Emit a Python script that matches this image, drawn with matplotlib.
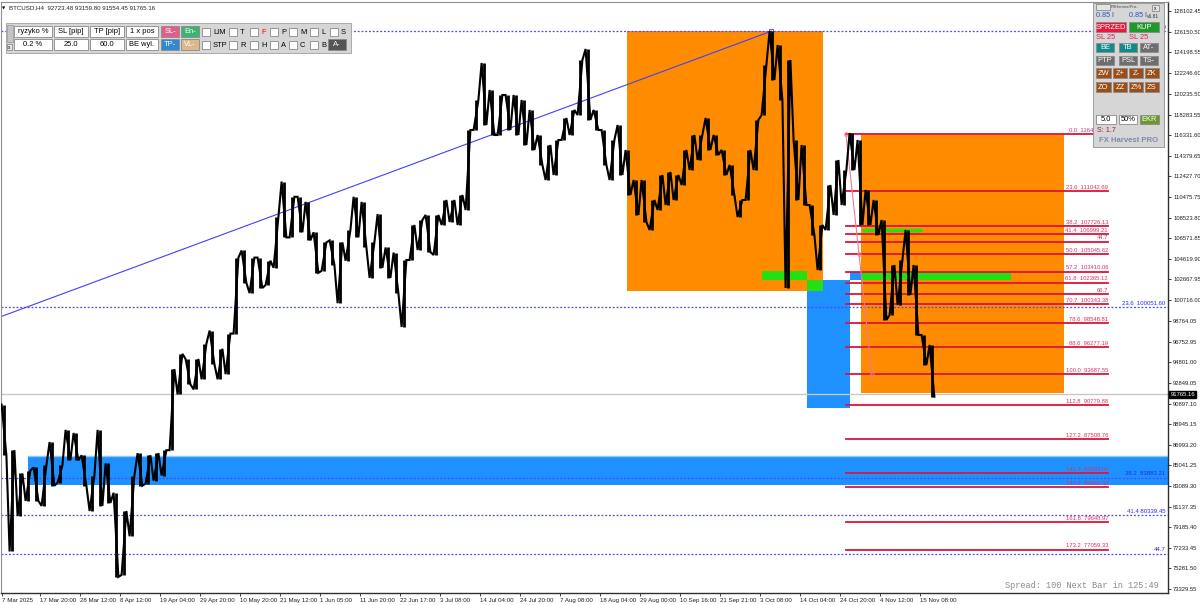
import numpy as np
import matplotlib
matplotlib.use("Agg")
import matplotlib.pyplot as plt
from matplotlib.patches import Rectangle
from matplotlib.transforms import Bbox

plt.rcParams['font.family'] = ['Liberation Sans', 'DejaVu Sans']

# BTCUSD H4, one high/low pair read for every ~13 bars (8 px of the chart)
highs = [90805, 86486, 84276, 84560, 84854, 85044, 87252, 85044, 88408, 88114,
         86001, 84086, 88408, 85233, 82447, 80722, 84086, 86200, 86001, 86200,
         86486, 94169, 95609, 95127, 95127, 96569, 97820, 96095, 97535, 104735,
         105408, 104735, 104735, 104441, 108573, 111936, 110496, 110496, 110013, 107132,
         106175, 106365, 106175, 107322, 110496, 110013, 106175, 108857, 105692, 105209,
         104507, 107824, 108298, 108772, 108772, 110193, 110193, 110667, 116826, 119669,
         123175, 120617, 120143, 120143, 120143, 119669, 118721, 116352, 115405, 115878,
         117963, 118721, 123459, 124502, 118721, 116826, 115878, 117300, 114931, 112088,
         112088, 110193, 112562, 112846, 112562, 114931, 116352, 116352, 117963, 116352,
         114931, 113510, 110193, 114931, 117774, 122986, 126200, 124881, 123459, 115878,
         115405, 109719, 107824, 111614, 113983, 113036, 116541, 115878, 111141, 110193,
         108298, 104033, 104507, 107350, 104033, 97400, 96453]
lows = [86001, 76885, 80240, 81680, 81680, 81206, 83120, 83413, 85527, 85527,
        83120, 80722, 81206, 81490, 74478, 74667, 78326, 83120, 83318, 83602,
        84086, 86486, 91762, 92728, 92244, 93203, 94643, 93203, 93686, 97535,
        102327, 101370, 101853, 102137, 103768, 106649, 106649, 107132, 106365, 103294,
        103484, 104062, 100414, 104441, 106649, 105692, 102811, 103768, 102811, 101370,
        98158, 104507, 105455, 105265, 104981, 107824, 108108, 107824, 109245, 116826,
        117300, 116352, 116352, 116826, 116352, 115405, 114931, 113510, 112088, 112562,
        115878, 116352, 118248, 117774, 116826, 113510, 112088, 112562, 110667, 108772,
        108108, 107350, 109245, 109719, 110193, 111614, 113036, 113983, 114931, 114457,
        112562, 110667, 108582, 110193, 113036, 118248, 121564, 119669, 101853, 110193,
        109719, 106876, 103560, 107350, 108772, 109719, 113036, 107824, 107824, 106876,
        98822, 99295, 100243, 101190, 97400, 94558, 91554]

date_labels = ["7 Mar 2025", "17 Mar 20:00", "28 Mar 12:00", "8 Apr 12:00", "19 Apr 04:00",
               "29 Apr 20:00", "10 May 20:00", "21 May 12:00", "1 Jun 05:00", "11 Jun 20:00",
               "22 Jun 17:00", "3 Jul 08:00", "14 Jul 04:00", "24 Jul 20:00", "7 Aug 08:00",
               "18 Aug 04:00", "29 Aug 00:00", "10 Sep 16:00", "21 Sep 21:00", "3 Oct 08:00",
               "14 Oct 04:00", "24 Oct 20:00", "4 Nov 12:00", "15 Nov 08:00"]
price_ticks = [128102.45, 126150.50, 124198.55, 122246.60, 120235.50, 118283.55, 116331.60,
               114379.65, 112427.70, 110475.75, 108523.80, 106571.85, 104619.90, 102667.95,
               100716.00, 98764.05, 96752.95, 94801.00, 92849.05, 90897.10, 88945.15,
               86993.20, 85041.25, 83089.30, 81137.35, 79185.40, 77233.45, 75281.50, 73329.55]

header = "BTCUSD,H4  92723.48 93159.80 91554.45 91765.16"
last_price = 91765.16

# red fibo (swing high -> low)
red_high = 116403.70
red_low = 93687.55
red_levels = [0.0, 23.6, 38.2, 41.4, 44.7, 50.0, 57.2, 61.8, 66.7, 70.7, 78.6,
              88.6, 100.0, 112.8, 127.2, 141.4, 147.2, 161.8, 173.2]
red_no_price = [44.7, 66.7]

# blue fibo levels (dotted, full width)
blue_levels = [0.0, 23.6, 38.2, 41.4, 44.7]
blue_prices = [126186.70, 100051.60, 83883.21, 80339.45, 76684.60]
blue_labels = ["0.0  126186.70", "23.6  100051.60", "38.2  83883.21", "41.4 80339.45", "44.7"]

# zones: (start bar, end bar, bottom price, top price)
orange_zones = [(77.9, 102.4, 101570, 126186.7), (107.1, 132.5, 91932, 116403.7)]
blue_zones = [(3.0, 145.6, 83186, 85934), (100.4, 105.75, 90483, 102612), (105.75, 107.25, 102612, 103370)]
green_zones = [(94.75, 100.4, 102612, 103465), (100.4, 102.4, 101570, 102612), (107.25, 125.9, 102612, 103465)]
green_line = (107.25, 114.75, 107350)
trend_line = ([-0.5, 95.9], [99106, 126186.7])
red_anchor = ([105.25, 108.5], [red_high, red_low])

W, H = 1200, 605
fig = plt.figure(figsize=(W / 100, H / 100), dpi=100)
fig.patch.set_facecolor('white')
ax = fig.add_axes([1 / W, 12 / H, 1167 / W, 591 / H])
ax.set_xlim(-0.375, 145.5)
ax.set_ylim(72952, 128955)

# everything left of the EA panel stays visible, the rest is hidden under it
panel_clip = Bbox.from_extents(0, 0, 1093, H)

for x0, x1, b, t in orange_zones:
    ax.add_patch(Rectangle((x0, b), x1 - x0, t - b, fc='#FF8C00', ec='none', zorder=1))
for x0, x1, b, t in blue_zones:
    ax.add_patch(Rectangle((x0, b), x1 - x0, t - b, fc='#1E90FF', ec='none', zorder=1))
ax.axhline(blue_zones[0][3], xmin=(blue_zones[0][0] + 0.375) / 145.875, color='#8EC8FF', lw=1, zorder=1.1)
for x0, x1, b, t in green_zones:
    ax.add_patch(Rectangle((x0, b), x1 - x0, t - b, fc='#22E012', ec='none', zorder=1.5))
ax.plot(green_line[:2], [green_line[2]] * 2, color='#22E012', lw=2.5, zorder=1.5, solid_capstyle='butt')

# blue fibo
for lvl, p, lab in zip(blue_levels, blue_prices, blue_labels):
    ax.axhline(p, color='#4848FF', lw=0.9, ls=(0, (1.5, 1.5)), zorder=2)
    t = ax.text(145.2, p + 120, lab, ha='right', va='bottom', fontsize=4.3, color='#2828FF', zorder=2)
    if lvl == 0.0:
        t.set_clip_box(panel_clip)
ax.plot(*trend_line, color='#4040FF', lw=0.8, zorder=2)
ax.plot(trend_line[0][1], trend_line[1][1], marker='s', ms=2.5, mfc='none', mec='#4040FF', mew=0.6, zorder=2)

# current price line
ax.axhline(last_price, color='#C8C8C8', lw=1, zorder=1.8)

# red fibo
for lvl in red_levels:
    p = red_high - (red_high - red_low) * lvl / 100
    ax.plot([105.25, 138.0], [p, p], color='#DC143C', lw=1.3, zorder=2.2)
    lab = f"{lvl:.1f}" if lvl in red_no_price else f"{lvl:.1f}  {p:.2f}"
    t = ax.text(138.0, p + 110, lab, ha='right', va='bottom', fontsize=4.2, color='#E0305A', zorder=2.2)
    if lvl == 0.0:
        t.set_clip_box(panel_clip)
ax.plot(*red_anchor, color='#F07890', lw=0.8, zorder=2.3)
ax.plot(red_anchor[0] + [np.mean(red_anchor[0])], red_anchor[1] + [np.mean(red_anchor[1])],
        ls='none', marker='o', ms=2.5, mfc='none', mec='#F07890', mew=0.7, zorder=2.3)

# price path: zigzag through each high/low pair
n = len(highs)
mids = [(h + l) / 2 for h, l in zip(highs, lows)]
xs, ys = [], []
for i in range(n):
    nxt = mids[i + 1] if i + 1 < n else mids[i] - 1
    pair = (lows[i], highs[i]) if nxt >= mids[i] else (highs[i], lows[i])
    xs += [i - 0.3, i + 0.3]
    ys += list(pair)
ax.vlines(range(n), lows, highs, color='black', lw=2.0, zorder=3)
ax.plot(xs, ys, color='black', lw=1.5, zorder=3, solid_joinstyle='miter')

# axes styling
for s in ['top', 'left']:
    ax.spines[s].set_color('#909090')
    ax.spines[s].set_linewidth(0.8)
for s in ['right', 'bottom']:
    ax.spines[s].set_color('#303030')
    ax.spines[s].set_linewidth(1.0)
ax.yaxis.tick_right()
ax.set_yticks(price_ticks)
ax.set_yticklabels([f"{v:.2f}" for v in price_ticks])
ax.tick_params(axis='y', labelsize=4.2, length=2.5, width=0.6, pad=1.2, colors='#202020')
xt = np.arange(len(date_labels)) * 5 - 0.5
xt[0] = -0.3
ax.set_xticks(xt)
ax.set_xticklabels(date_labels)
ax.tick_params(axis='x', labelsize=4.4, length=2.5, width=0.6, pad=1, colors='#202020')
for t in ax.get_xticklabels():
    t.set_ha('left')
ax.text(1.002, last_price, f"{last_price:.2f}", transform=ax.get_yaxis_transform(), ha='left',
        va='center', fontsize=4.2, color='white', zorder=5,
        bbox=dict(boxstyle='square,pad=0.25', fc='black', ec='black'))

# ---- UI overlay in pixel coordinates ----
ui = fig.add_axes([0, 0, 1, 1], zorder=10)
ui.set_xlim(0, W)
ui.set_ylim(H, 0)
ui.axis('off')
ui.patch.set_alpha(0)


def box(x0, y0, x1, y1, fc, text=None, tc='black', ec='#8a8a8a', fs=5.4, weight='normal'):
    ui.add_patch(Rectangle((x0, y0), x1 - x0, y1 - y0, fc=fc, ec=ec, lw=0.6))
    if text:
        ui.text((x0 + x1) / 2, (y0 + y1) / 2 + 0.3, text, ha='center', va='center',
                color=tc, fontsize=fs, fontweight=weight)


ui.text(2, 8, "▼", fontsize=3, va='center', family=['DejaVu Sans'])
ui.text(9, 8, header, fontsize=4.4, va='center', color='#202020')
ui.text(1005, 586, "Spread: 100 Next Bar in 125:49", fontsize=6.2, va='center',
        color='#8a8a8a', family=['Liberation Mono', 'DejaVu Sans Mono'])

# top-left trade panel
box(6, 23, 351, 53, '#D6D6D6', ec='#A0A0A0')
box(7, 25, 13, 42, '#C4C4C4', ec='#A0A0A0')
box(7, 44, 12, 50, '#E8E8E8', text='x', fs=3.5)
for (x0, x1), t1, t2 in zip([(14, 52), (54, 88), (90, 124), (126, 158)],
                            ["ryzyko %", "SL [pip]", "TP [pip]", "1 x pos"],
                            ["0.2 %", "25.0", "60.0", "BE wyl."]):
    box(x0, 26, x1, 37, 'white', text=t1)
    box(x0, 39, x1, 50, 'white', text=t2)
box(161, 26, 179, 37, '#E0608C', text='SL-', tc='white')
box(181, 26, 199, 37, '#3CB371', text='En-', tc='white')
box(161, 39, 179, 50, '#3388CC', text='TP-', tc='white')
box(181, 39, 199, 50, '#DDB888', text='VL-', tc='white')
cb_x = [202, 229, 250, 270, 289, 310, 330]
row1 = ["LIM", "T", "F", "P", "M", "L", "S"]
row2 = ["STP", "R", "H", "A", "C", "B"]
for x, t in zip(cb_x, row1):
    box(x, 28, x + 8, 36, 'white')
    ui.text(x + 11, 32.3, t, fontsize=5.4, va='center', color='red' if t == 'F' else 'black')
for x, t in zip(cb_x, row2):
    box(x, 41, x + 8, 49, 'white')
    ui.text(x + 11, 45.3, t, fontsize=5.4, va='center')
box(328, 39, 346, 50, '#555555', text='A-', tc='white')

# top-right EA panel
box(1093, 3, 1164, 147, '#D6D6D6', ec='#909090')
box(1096, 4, 1110, 10, '#E4E4E4')
ui.text(1111, 7, "FXHarvestPro..", fontsize=3, va='center', color='#404040')
box(1152, 5, 1159, 11, '#E4E4E4', text='x', fs=3.5)
ui.text(1096, 15.5, "0.85 l", fontsize=5.2, va='center', color='#3050C0')
ui.text(1129, 15.5, "0.85 l", fontsize=5.2, va='center', color='#3050C0')
ui.text(1147, 17, "v6.81", fontsize=3.5, va='center', color='#303030')
box(1096, 22, 1126, 32, '#E8193C', text='SPRZED', tc='white')
box(1129, 22, 1159, 32, '#1F9A2A', text='KUP', tc='white')
ui.text(1096, 37.5, "SL 25", fontsize=5.4, va='center', color='#E8194A')
ui.text(1129, 37.5, "SL 25", fontsize=5.4, va='center', color='#E8194A')
for (x0, x1), t, c in zip([(1096, 1114), (1119, 1137), (1140, 1158)], ["BE", "TB", "AT-"],
                          ['#138A8A', '#138A8A', '#6E6E6E']):
    box(x0, 43, x1, 52, c, text=t, tc='white')
for (x0, x1), t in zip([(1096, 1114), (1119, 1137), (1140, 1158)], ["PTP", "PSL", "TS-"]):
    box(x0, 56, x1, 65, '#6E6E6E', text=t, tc='white')
zx = [(1096, 1111), (1113, 1127), (1129, 1143), (1145, 1159)]
for (x0, x1), t in zip(zx, ["ZW", "Z+", "Z-", "ZK"]):
    box(x0, 68, x1, 78, '#9C4E16', text=t, tc='white')
for (x0, x1), t in zip(zx, ["ZO", "ZZ", "Z%", "ZS"]):
    box(x0, 82, x1, 92, '#9C4E16', text=t, tc='white')
box(1096, 115, 1116, 124, 'white', text='5.0')
box(1119, 115, 1137, 124, 'white', text='50%')
box(1140, 115, 1159, 124, '#6B9A2A', text='EKR', tc='white')
ui.text(1097, 131, "S: 1.7", fontsize=5.2, va='center', color='#A0202A')
ui.text(1099, 140.5, "FX Harvest PRO", fontsize=5.6, va='center', color='#7A8AA8', fontweight='bold')

fig.savefig("out.png", dpi=100, facecolor='white')
